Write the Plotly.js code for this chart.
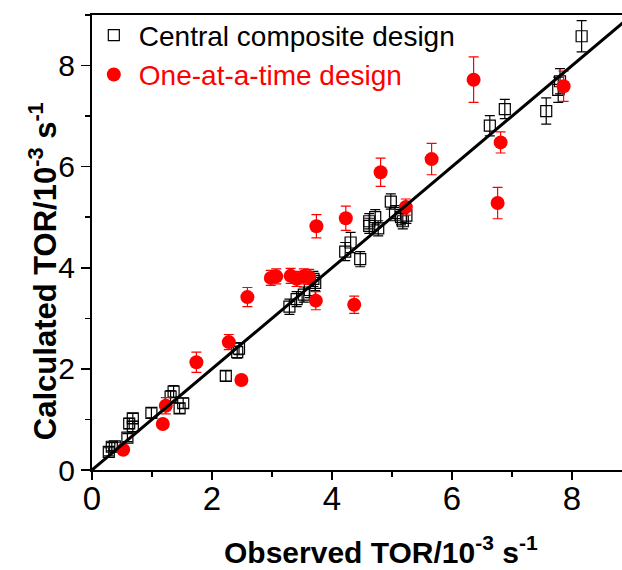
<!DOCTYPE html>
<html>
<head>
<meta charset="utf-8">
<script src="https://cdn.plot.ly/plotly-3.0.1.min.js"></script>
<style>html,body{margin:0;padding:0;background:#fff;}#chart{width:622px;height:570px;}</style>
</head>
<body>
<div id="chart"></div>
<script>
// Central composite design (black open squares)
const ccdObserved = [0.28,0.33,0.38,0.59,0.62,0.68,0.68,0.99,1.31,1.36,1.46,1.52,2.23,2.42,2.45,3.29,3.41,3.53,3.63,3.72,3.69,4.22,4.31,4.47,4.62,4.62,4.72,4.77,4.98,5.05,5.15,5.18,5.24,6.63,6.88,7.57,7.77,7.80,8.16];
const ccdCalculated = [0.36,0.46,0.47,0.64,0.92,1.02,0.86,1.13,1.45,1.55,1.22,1.32,1.86,2.33,2.40,3.23,3.38,3.47,3.56,3.70,3.78,4.32,4.50,4.17,4.83,4.92,5.00,4.78,5.31,5.08,5.00,4.92,5.03,6.81,7.14,7.10,7.52,7.69,8.58];
const ccdError = [0.08,0.08,0.08,0.08,0.1,0.1,0.1,0.1,0.12,0.12,0.1,0.1,0.1,0.12,0.12,0.15,0.15,0.15,0.15,0.15,0.15,0.18,0.2,0.15,0.15,0.15,0.15,0.15,0.15,0.15,0.15,0.15,0.15,0.2,0.19,0.26,0.25,0.25,0.31];

// One-at-a-time design (red filled circles)
const oatObserved = [0.52,1.18,1.23,1.74,2.28,2.49,2.59,2.98,3.07,3.31,3.41,3.53,3.62,3.73,3.74,4.23,4.37,4.81,5.23,5.66,6.36,6.76,6.81,7.86];
const oatCalculated = [0.40,0.91,1.27,2.13,2.53,1.78,3.42,3.80,3.83,3.84,3.78,3.83,3.82,3.35,4.82,4.98,3.27,5.89,5.20,6.15,7.72,5.28,6.48,7.59];
const oatError = [0.05,0.05,0.16,0.2,0.15,0.08,0.19,0.15,0.15,0.15,0.15,0.15,0.15,0.18,0.23,0.24,0.17,0.28,0.16,0.31,0.45,0.31,0.21,0.3];

// Parity line y = x
const parityX = [0, 9];
const parityY = [0, 9];

const seriesNames = ['Central composite design', 'One-at-a-time design'];
const xTitle = 'Observed TOR/10<sup>-3</sup> s<sup>-1</sup>';
const yTitle = 'Calculated TOR/10<sup>-3</sup> s<sup>-1</sup>';

const traces = [
  {
    x: ccdObserved, y: ccdCalculated, type: 'scatter', mode: 'markers',
    name: seriesNames[0],
    marker: {symbol: 'square-open', size: 11, color: '#000', line: {width: 1.2, color: '#000'}},
    error_y: {type: 'data', array: ccdError, visible: true, color: '#000', thickness: 1.2, width: 5}
  },
  {
    x: oatObserved, y: oatCalculated, type: 'scatter', mode: 'markers',
    name: '<span style="color:#ff0000">' + seriesNames[1] + '</span>',
    marker: {symbol: 'circle', size: 14, color: '#ff0000'},
    error_y: {type: 'data', array: oatError, visible: true, color: '#ff0000', thickness: 1.2, width: 5}
  },
  {
    x: parityX, y: parityY, type: 'scatter', mode: 'lines', showlegend: false,
    line: {color: '#000', width: 3}, hoverinfo: 'skip'
  }
];

const font = {family: 'Arial, "Liberation Sans", sans-serif', color: '#000'};

const layout = {
  width: 622, height: 570,
  margin: {l: 92, r: 0, t: 15, b: 100},
  paper_bgcolor: '#fff', plot_bgcolor: '#fff',
  font: Object.assign({size: 28}, font),
  showlegend: true,
  legend: {x: -0.006, y: 1.01, xanchor: 'left', yanchor: 'top', bgcolor: 'rgba(0,0,0,0)',
           font: Object.assign({size: 28}, font), tracegroupgap: 0, itemwidth: 40},
  xaxis: {
    range: [0, 8.833], showgrid: false, zeroline: false,
    showline: true, linecolor: '#000', linewidth: 2, mirror: true,
    ticks: 'outside', ticklen: 8, tickwidth: 1.5, tickcolor: '#000',
    dtick: 2, tick0: 0, ticklabelstandoff: -10,
    minor: {dtick: 1, ticks: 'outside', ticklen: 5, tickwidth: 1.5, tickcolor: '#000', showgrid: false},
    tickfont: Object.assign({size: 33}, font)
  },
  yaxis: {
    range: [0, 9], showgrid: false, zeroline: false,
    showline: true, linecolor: '#000', linewidth: 2, mirror: false,
    ticks: 'outside', ticklen: 9, tickwidth: 1.5, tickcolor: '#000',
    dtick: 2, tick0: 0,
    minor: {dtick: 1, ticks: 'outside', ticklen: 5, tickwidth: 1.5, tickcolor: '#000', showgrid: false},
    tickfont: Object.assign({size: 30}, font)
  },
  annotations: [
    {
      text: '<b>' + xTitle + '</b>', xref: 'paper', yref: 'paper',
      x: 0.545, y: -0.176, xanchor: 'center', yanchor: 'middle',
      showarrow: false, font: Object.assign({size: 30}, font)
    },
    {
      text: '<b>' + yTitle + '</b>', xref: 'paper', yref: 'paper',
      x: -0.0925, y: 0.437, xanchor: 'center', yanchor: 'middle',
      textangle: -90, showarrow: false, font: Object.assign({size: 31}, font)
    }
  ]
};

Plotly.newPlot('chart', traces, layout, {displayModeBar: false, staticPlot: true});
</script>
</body>
</html>
